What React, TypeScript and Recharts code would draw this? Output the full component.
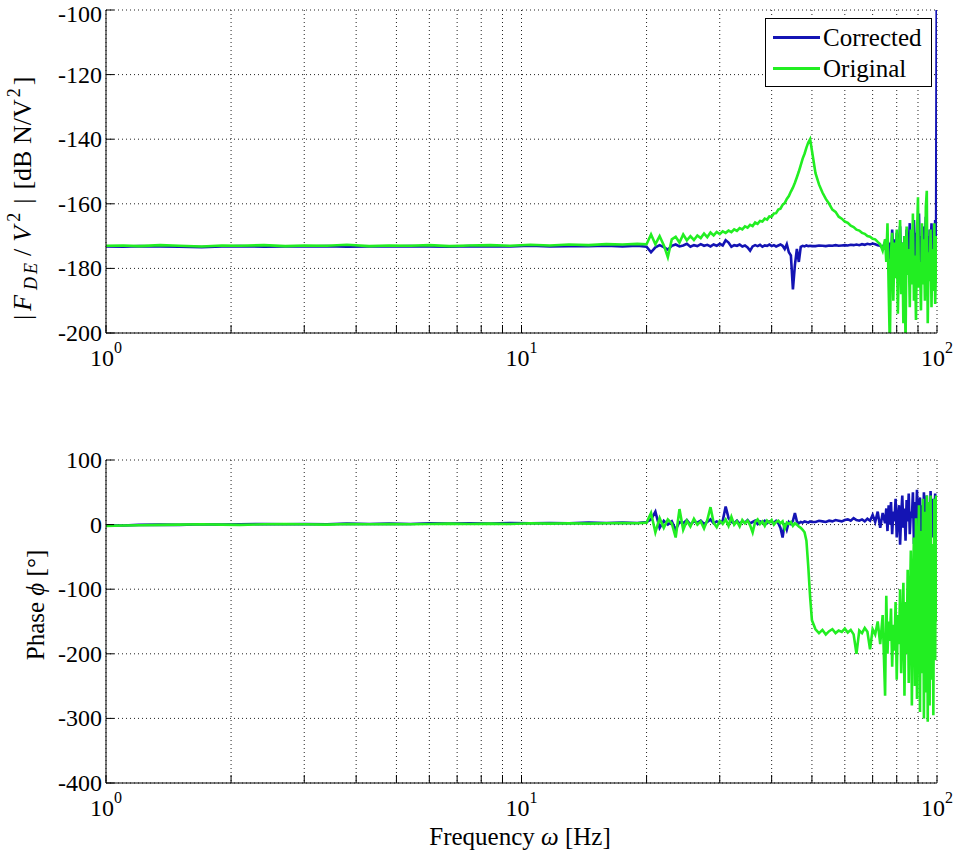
import React from 'react';
import { LineChart, Line, XAxis, YAxis, CartesianGrid, Legend } from 'recharts';

const FONT = '"Liberation Serif", "Times New Roman", serif';
const BLUE = '#1414b4';
const GREEN = '#22ee22';

// frequency samples [Hz]
const freqHz = [
  1, 1.1, 1.2, 1.35, 1.5, 1.7, 1.9, 2.1, 2.4, 2.7, 3, 3.4, 3.8, 4.3, 4.8, 5.4, 6, 6.7, 7.5, 8.4,
  9.4, 10.5, 11.7, 13, 14.5, 16, 17.5, 19, 20,
  20.5, 21, 21.5, 22, 22.5, 23, 23.5, 24, 24.5, 25, 25.5, 26, 26.5, 27, 27.5, 28, 28.5, 29, 29.5, 30,
  30.5, 31, 31.5, 32, 32.5, 33, 33.5, 34, 34.5, 35, 35.5, 36, 36.5, 37, 37.5, 38, 38.5, 39, 39.5, 40,
  40.5, 41, 41.5, 42, 42.5, 43, 43.5, 44, 44.5, 45, 45.5, 46, 46.5, 47, 47.5, 48, 48.5, 49, 49.5, 50,
  51, 52, 53, 54, 55, 56, 57, 58, 59, 60, 61, 62, 63, 64, 65, 66, 67, 68, 69, 70, 71, 72, 73, 74, 75,
  75.5, 76, 76.5, 77, 77.5, 78, 78.5, 79, 79.5, 80, 80.5, 81, 81.5, 82, 82.5, 83, 83.5, 84, 84.5, 85,
  85.5, 86, 86.5, 87, 87.5, 88, 88.5, 89, 89.5, 90, 90.5, 91, 91.5, 92, 92.5, 93, 93.5, 94, 94.5, 95,
  95.5, 96, 96.5, 97, 97.5, 98, 98.5, 99, 99.5, 100,
];

// |F_DE / V^2| [dB N/V^2]
const magCorrected = [
  -173.2, -173.3, -173.1, -173.2, -173.3, -173.4, -173.2, -173.1, -173.3, -173.2,
  -173.2, -173.1, -173.3, -173.2, -173.2, -173.1, -173.2, -173.3, -173.1, -173.2,
  -173.2, -173.0, -173.2, -173.1, -173.1, -173.0, -173.2, -173.0, -173.3,
  -175.0, -173.5, -172.8, -173.4, -174.2, -173.0, -172.6, -173.2, -172.9, -172.4,
  -173.3, -172.8, -173.1, -172.5, -173.0, -172.7, -173.2, -172.6, -173.0, -172.4,
  -172.9, -171.3, -172.0, -173.3, -172.8, -173.0, -172.6, -173.2, -172.9, -173.5,
  -174.5, -173.2, -172.8, -173.1, -172.7, -173.3, -172.9, -173.0, -172.6, -173.1,
  -172.8, -173.2, -172.9, -172.6, -173.0, -174.0, -172.5, -175.0, -176.0, -186.5,
  -179.0, -174.0, -178.0, -173.3, -173.0, -173.2, -172.9, -173.1, -173.0, -173.1,
  -173.1, -172.9, -173.0, -173.1, -172.9, -173.0, -172.8, -173.0, -172.9, -172.8,
  -172.9, -172.7, -172.8, -172.6, -172.8, -172.5, -172.7, -172.4, -172.6, -172.3,
  -172.5, -172.8, -173.0, -173.5, -172.0,
  -174, -170, -177, -172, -180, -168, -175, -171, -178, -169,
  -176, -173, -167, -179, -172, -184, -170, -175, -168, -181,
  -173, -166, -177, -171, -179, -165, -174, -182, -169, -176,
  -163, -178, -170, -175, -167, -180, -172, -164, -177, -170,
  -183, -168, -174, -166, -179, -171, -176, -165, -173, -60,
];

const magOriginal = [
  -173.0, -172.9, -173.1, -172.8, -173.0, -173.2, -172.9, -173.0, -172.8, -173.1,
  -172.9, -173.0, -172.7, -173.1, -172.9, -173.0, -172.8, -173.1, -172.9, -172.8,
  -173.0, -172.7, -172.9, -172.6, -172.8, -172.5, -172.6, -172.4, -172.5,
  -169.5, -172.5, -170.0, -172.8, -176.5, -171.0, -170.2, -172.0, -169.5, -171.3,
  -170.0, -171.2, -169.8, -170.6, -169.2, -170.3, -168.9, -169.8, -168.7, -169.4,
  -168.5, -169.0, -168.3, -168.8, -167.9, -168.4, -167.5, -167.9, -167.0, -167.4,
  -166.5, -166.9, -165.8, -166.2, -165.3, -165.5, -164.6, -164.9, -163.9, -164.0,
  -163.0, -162.9, -161.8, -161.5, -160.3, -159.8, -158.5, -157.6, -156.2, -155.0,
  -153.5, -151.8, -150.0, -148.0, -146.0, -144.5, -142.6, -141.0, -140.0, -143.5,
  -150.5, -154.0, -156.5, -158.5, -160.0, -161.8, -162.5, -164.0, -164.6, -165.5,
  -165.9, -166.8, -167.2, -168.0, -168.3, -169.0, -169.3, -170.0, -170.2, -170.8,
  -171.0, -171.8, -172.5, -174.5, -171.0,
  -178, -166, -186, -204, -175, -169, -190, -172, -183, -168,
  -194, -176, -165, -188, -172, -197, -170, -204, -167, -182,
  -174, -192, -168, -185, -163, -190, -176, -196, -170, -158,
  -186, -178, -193, -166, -185, -171, -190, -161, -156, -197,
  -175, -184, -168, -192, -174, -187, -166, -191, -178, -170,
];

// Phase [deg]
const phaseCorrected = [
  -1, -1.5, -0.5, 0, -0.5, 0.5, 0, 0.5, 1, 0.5,
  1, 0.5, 1.5, 1, 1.5, 1, 2, 1.5, 2, 1.5,
  2.5, 2, 2.5, 2, 3, 2.5, 3, 2.5, 4,
  8, 20, -5, 6, 0, 5, -8, 4, 2, 7,
  0, 5, 3, 6, 1, 4, 8, 2, 5, 3,
  6, 28, 10, 4, 2, 6, 1, 5, 3, 7,
  2, 4, 6, 1, 5, 3, 6, 2, 5, 4,
  3, 6, 2, -5, -20, 2, -8, 4, 1, 6,
  18, 5, 2, 4, 3, 5, 4, 3, 5, 4,
  4, 6, 5, 4, 6, 5, 7, 6, 5, 7,
  8, 6, 10, 7, 6, 8, 5, 9, 6, 15,
  4, 20, -5, 18, 2,
  25, -10, 30, 0, 35, -15, 20, 5, 40, -20,
  10, 30, -31, 15, 45, -5, 25, -25, 38, 5,
  48, -15, 20, 10, 50, -30, 35, 0, 54, -20,
  25, 42, -10, 30, -25, 50, 15, -18, 45, 0,
  35, -30, 52, 10, -20, 40, 5, 48, -15, 20,
];

const phaseOriginal = [
  -2, -1.5, -1, -0.5, 0, 0.5, 0, -0.5, 0.5, 1,
  0.5, 0, 1, 0.5, 1, 0.5, 1, 1.5, 1, 1.5,
  1, 2, 1.5, 2, 1.5, 2, 2.5, 2, 3,
  18, -12, 10, -5, 8, 2, -20, 24, -8, 6,
  -3, 9, 0, 5, -6, 7, 27, 3, -4, 6,
  1, 8, -2, 12, 0, 5, -3, 7, 2, 6,
  -1, -12, 4, 8, 1, 5, -2, 6, 3, 7,
  0, 4, 6, 2, 5, -6, 3, 1, 4, -2,
  2, 0, -3, -5, -8, -12, -25, -65, -112, -148,
  -162, -168, -163, -170, -165, -162, -168, -164, -166, -161,
  -167, -163, -170, -200, -164, -168, -160, -166, -193, -162,
  -170, -150, -185, -140, -265,
  -110, -200, -150, -180, -130, -220, -155, -195, -120, -240,
  -140, -185, -100, -230, -160, -90, -265, -120, -200, -70,
  -245, -130, -40, -280, -100, -20, -250, 10, -270, -60,
  30, -290, -10, -230, 40, -300, 20, -260, 45, -305,
  35, -280, 45, -240, -30, -295, 40, -210, 45, -150,
];

const freqTicks = [1, 2, 3, 4, 5, 6, 7, 8, 9, 10, 20, 30, 40, 50, 60, 70, 80, 90, 100];
const decadeLabels: Record<number, string> = { 1: '0', 10: '1', 100: '2' };
const magTicks = [-200, -180, -160, -140, -120, -100];
const phaseTicks = [-400, -300, -200, -100, 0, 100];
const seriesNames = ['Corrected', 'Original'];
const seriesColors = [BLUE, GREEN];

const data = freqHz.map((f, i) => ({
  f,
  magC: magCorrected[i],
  magO: magOriginal[i],
  phC: phaseCorrected[i],
  phO: phaseOriginal[i],
}));

const BottomTick = (props: any) => {
  const { x, y, payload } = props;
  const exp = decadeLabels[payload.value];
  return (
    <g>
      <line x1={x} x2={x} y1={y} y2={y - 8} stroke="#000" />
      {exp !== undefined && (
        <text x={x} y={y + 33} textAnchor="middle" fontFamily={FONT} fontSize={24} fill="#000">
          10<tspan dy={-13} fontSize={16}>{exp}</tspan>
        </text>
      )}
    </g>
  );
};

const TopTick = (props: any) => {
  const { x, y } = props;
  return <line x1={x} x2={x} y1={y} y2={y + 8} stroke="#000" />;
};

const LeftTick = (props: any) => {
  const { x, y, payload } = props;
  // keep the topmost label inside the page
  const baseline = Math.max(y + 8, 22);
  return (
    <g>
      <line x1={x} x2={x + 8} y1={y} y2={y} stroke="#000" />
      <text x={x - 4} y={baseline} textAnchor="end" fontFamily={FONT} fontSize={24} fill="#000">
        {payload.value}
      </text>
    </g>
  );
};

const RightTick = (props: any) => {
  const { x, y } = props;
  return <line x1={x} x2={x - 8} y1={y} y2={y} stroke="#000" />;
};

const MagLabel = () => (
  <text transform="translate(31,320) rotate(-90)" fontFamily={FONT} fontSize={26} fill="#000">
    |<tspan dx={4} fontStyle="italic">F</tspan>
    <tspan dx={5} dy={6} fontStyle="italic" fontSize={18} letterSpacing={3}>DE</tspan>
    <tspan dx={4} dy={-6}>/</tspan>
    <tspan dx={7} fontStyle="italic">V</tspan>
    <tspan dx={4} dy={-11} fontSize={18}>2</tspan>
    <tspan dx={9} dy={11}>|</tspan>
    <tspan dx={9}>[dB N/V</tspan>
    <tspan dx={2} dy={-11} fontSize={18}>2</tspan>
    <tspan dx={3} dy={11}>]</tspan>
  </text>
);

const PhaseLabel = () => (
  <text transform="translate(44,175) rotate(-90)" textAnchor="middle" fontFamily={FONT} fontSize={25} fill="#000">
    Phase <tspan fontStyle="italic">ϕ</tspan> [°]
  </text>
);

const FreqLabel = () => (
  <text x={520} y={415} textAnchor="middle" fontFamily={FONT} fontSize={25} fill="#000">
    Frequency <tspan fontStyle="italic">ω</tspan> [Hz]
  </text>
);

const LegendBox = () => (
  <div
    style={{
      width: 167,
      height: 69,
      border: '1px solid #000',
      background: '#fff',
      fontFamily: FONT,
      fontSize: 25,
      paddingTop: 3,
      boxSizing: 'border-box',
      color: '#000',
    }}
  >
    {seriesNames.map((name, i) => (
      <div key={name} style={{ display: 'flex', alignItems: 'center', height: 31, paddingLeft: 7 }}>
        <span style={{ display: 'inline-block', width: 47, height: 3, background: seriesColors[i], marginRight: 3 }} />
        <span style={{ lineHeight: '31px' }}>{name}</span>
      </div>
    ))}
  </div>
);

const xAxisProps = {
  dataKey: 'f',
  type: 'number' as const,
  scale: 'log' as const,
  domain: [1, 100],
  ticks: freqTicks,
  interval: 0,
  allowDataOverflow: true,
  tickSize: 0,
  tickMargin: 0,
  tickLine: false,
  axisLine: { stroke: '#000' },
};

export default function App() {
  return (
    <div style={{ position: 'absolute', left: 0, top: 0, width: 958, height: 861, background: '#fff' }}>
      <div style={{ position: 'absolute', left: 0, top: 0 }}>
        <LineChart width={958} height={400} data={data} margin={{ top: 10, right: 21, bottom: 27, left: 0 }}>
          <CartesianGrid stroke="#222" strokeDasharray="1 3" />
          <XAxis {...xAxisProps} height={40} tick={<BottomTick />} />
          <XAxis {...xAxisProps} xAxisId="top" orientation="top" height={0} tick={<TopTick />} />
          <YAxis
            type="number"
            domain={[-200, -100]}
            ticks={magTicks}
            interval={0}
            allowDataOverflow
            width={106}
            tickSize={0}
            tickMargin={0}
            tickLine={false}
            axisLine={{ stroke: '#000' }}
            tick={<LeftTick />}
            label={<MagLabel />}
          />
          <YAxis
            yAxisId="right"
            orientation="right"
            type="number"
            domain={[-200, -100]}
            ticks={magTicks}
            interval={0}
            allowDataOverflow
            width={0}
            tickSize={0}
            tickMargin={0}
            tickLine={false}
            axisLine={{ stroke: '#000' }}
            tick={<RightTick />}
          />
          <Line type="linear" dataKey="magC" name="Corrected" stroke={BLUE} strokeWidth={2.6} dot={false} isAnimationActive={false} />
          <Line type="linear" dataKey="magO" name="Original" stroke={GREEN} strokeWidth={2.6} dot={false} isAnimationActive={false} />
          <Legend
            layout="horizontal"
            verticalAlign="middle"
            align="center"
            wrapperStyle={{ left: 765, top: 18, width: 'auto', height: 'auto' }}
            content={<LegendBox />}
          />
        </LineChart>
      </div>
      <div style={{ position: 'absolute', left: 0, top: 430 }}>
        <LineChart width={958} height={431} data={data} margin={{ top: 30, right: 21, bottom: 8, left: 0 }}>
          <CartesianGrid stroke="#222" strokeDasharray="1 3" />
          <XAxis {...xAxisProps} height={70} tick={<BottomTick />} label={<FreqLabel />} />
          <XAxis {...xAxisProps} xAxisId="top" orientation="top" height={0} tick={<TopTick />} />
          <YAxis
            type="number"
            domain={[-400, 100]}
            ticks={phaseTicks}
            interval={0}
            allowDataOverflow
            width={106}
            tickSize={0}
            tickMargin={0}
            tickLine={false}
            axisLine={{ stroke: '#000' }}
            tick={<LeftTick />}
            label={<PhaseLabel />}
          />
          <YAxis
            yAxisId="right"
            orientation="right"
            type="number"
            domain={[-400, 100]}
            ticks={phaseTicks}
            interval={0}
            allowDataOverflow
            width={0}
            tickSize={0}
            tickMargin={0}
            tickLine={false}
            axisLine={{ stroke: '#000' }}
            tick={<RightTick />}
          />
          <Line type="linear" dataKey="phC" name="Corrected" stroke={BLUE} strokeWidth={2.6} dot={false} isAnimationActive={false} />
          <Line type="linear" dataKey="phO" name="Original" stroke={GREEN} strokeWidth={2.6} dot={false} isAnimationActive={false} />
        </LineChart>
      </div>
    </div>
  );
}
